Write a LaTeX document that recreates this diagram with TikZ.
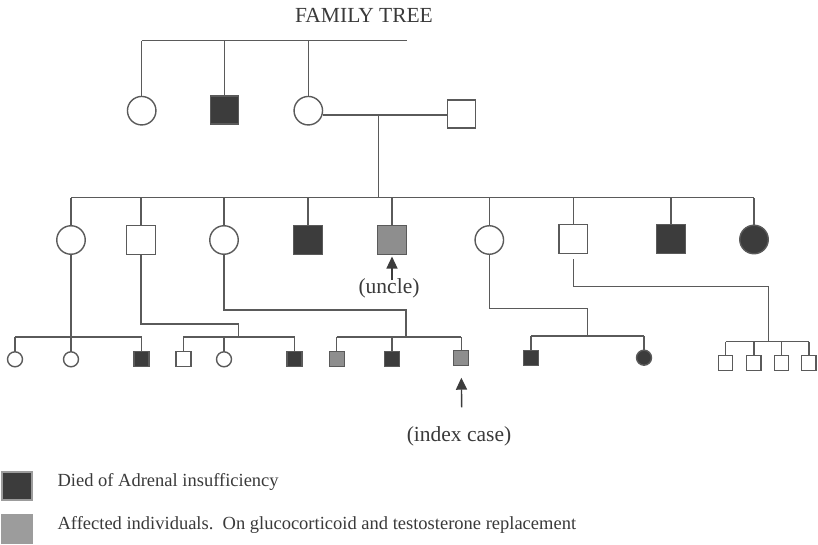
\documentclass[tikz,border=0pt]{standalone}
\usepackage{fontspec}
\setmainfont{Liberation Serif}
\usetikzlibrary{arrows.meta}
\definecolor{ln}{HTML}{5A5A5A}
\definecolor{dk}{HTML}{3C3C3C}
\definecolor{gr}{HTML}{8E8E8E}
\definecolor{lgr}{HTML}{9C9C9C}
\definecolor{txt}{HTML}{3A3A3A}
\tikzset{
  person/.style={draw=ln, line width=1.4pt, fill=white, inner sep=0pt, outer sep=0pt},
  fbig/.style={person, circle, minimum size=28.5pt},
  mbig/.style={person, rectangle, minimum size=28.5pt},
  fsm/.style={person, circle, minimum size=15pt},
  msm/.style={person, rectangle, minimum size=15pt},
  dead/.style={fill=dk},
  aff/.style={fill=gr},
  link/.style={draw=ln, line width=1.4pt},
  pointer/.style={draw=dk, line width=1.4pt, -{Triangle[length=12pt,width=11pt]}},
  lbl/.style={text=txt, inner sep=0pt, font=\fontsize{21.5}{25}\selectfont},
  leg/.style={text=txt, inner sep=0pt, anchor=west, font=\fontsize{18.5}{22}\selectfont},
}
\begin{document}
\begin{tikzpicture}[x=1pt,y=-1pt]
\useasboundingbox[fill=white] (0,0) rectangle (818,545);

% title
\node[lbl] (title) at (364,15) {FAMILY TREE};

% generation 1
\node[fbig] (g1a) at (141.7,110.7) {};
\node[mbig, dead, minimum size=28pt] (g1b) at (224.7,110.2) {};
\node[fbig] (g1c) at (308.3,110.7) {};
\node[mbig, minimum size=28pt] (g1d) at (461.7,114.2) {};
\coordinate (s1L) at (141.7,40.7);
\coordinate (s1R) at (406.7,40.7);
\coordinate (m1) at (378.3,115);

% generation 2
\node[fbig] (g2a) at (71,240) {};
\node[mbig] (g2b) at (141,240) {};
\node[fbig] (g2c) at (224,240) {};
\node[mbig, dead] (g2d) at (308,240) {};
\node[mbig, aff] (g2e) at (392,240) {};
\node[fbig] (g2f) at (489.3,240) {};
\node[mbig] (g2g) at (573.3,239) {};
\node[mbig, dead] (g2h) at (671,239) {};
\node[fbig, dead] (g2i) at (754,239.5) {};
\coordinate (s2L) at (71,197.7);
\coordinate (s2R) at (754,197.7);

% generation 3
\node[fsm] (c1) at (15,359.3) {};
\node[fsm] (c2) at (71,359.3) {};
\node[msm, dead] (c3) at (141.5,359) {};
\node[msm] (c4) at (183.3,359) {};
\node[fsm] (c5) at (224,359.3) {};
\node[msm, dead] (c6) at (294.5,359) {};
\node[msm, aff] (c7) at (336.7,359) {};
\node[msm, dead] (c8) at (392,359) {};
\node[msm, aff] (c9) at (461.2,357.7) {};
\node[msm, dead] (c10) at (531,357.7) {};
\node[fsm, dead] (c11) at (644,357.7) {};
\node[msm, minimum size=14.5pt] (c12) at (725.5,363) {};
\node[msm, minimum size=14.5pt] (c13) at (753.8,363) {};
\node[msm, minimum size=14.5pt] (c14) at (781.5,363) {};
\node[msm, minimum size=14.5pt] (c15) at (808.8,363) {};

% sibling-line coordinates of generation 3
\coordinate (sA) at (15,337);
\coordinate (sAR) at (141.5,337);
\coordinate (sB) at (183.3,337);
\coordinate (sBR) at (294.5,337);
\coordinate (jB) at (238.3,337);
\coordinate (sC) at (336.7,337);
\coordinate (sCR) at (461.2,337);
\coordinate (jC) at (406,337);
\coordinate (sD) at (531,336);
\coordinate (sDR) at (644,336);
\coordinate (jD) at (587.7,336);
\coordinate (sE) at (725.5,341.7);
\coordinate (sER) at (808.8,341.7);
\coordinate (jE) at (768.3,341.7);
\coordinate (eTop) at (573.3,259);

% generation 1 lines
\draw[link] (s1L) -- (s1R);
\foreach \n in {g1a,g1b,g1c} \draw[link] (\n.north) -- (\n.north |- s1L);
\draw[link] (g1c.east |- m1) -- (g1d.west |- m1);
\draw[link] (m1) -- (m1 |- s2L);

% generation 2 lines
\draw[link] (s2L) -- (s2R);
\foreach \n in {g2a,g2b,g2c,g2d,g2e,g2f,g2g,g2h,g2i} \draw[link] (\n.north) -- (\n.north |- s2L);

% descents to generation 3
\draw[link] (g2a.south) -- (c2.north);
\draw[link] (g2b.south) -- (g2b.south |- 0,324) -- (jB |- 0,324) -- (jB);
\draw[link] (g2c.south) -- (g2c.south |- 0,310) -- (jC |- 0,310) -- (jC);
\draw[link] (g2f.south) -- (g2f.south |- 0,308.3) -- (jD |- 0,308.3) -- (jD);
\draw[link] (eTop) -- (eTop |- 0,286.7) -- (jE |- 0,286.7) -- (jE);

% sibling lines of generation 3
\draw[link] (sA) -- (sAR);
\draw[link] (sB) -- (sBR);
\draw[link] (sC) -- (sCR);
\draw[link] (sD) -- (sDR);
\draw[link] (sE) -- (sER);
\foreach \n in {c1,c3} \draw[link] (\n.north) -- (\n.north |- sA);
\foreach \n in {c4,c5,c6} \draw[link] (\n.north) -- (\n.north |- sB);
\foreach \n in {c7,c8,c9} \draw[link] (\n.north) -- (\n.north |- sC);
\foreach \n in {c10,c11} \draw[link] (\n.north) -- (\n.north |- sD);
\foreach \n in {c12,c13,c14,c15} \draw[link] (\n.north) -- (\n.north |- sE);

% pointers
\node[lbl] (uncle) at (389,288) {(uncle)};
\draw[pointer, shorten >=2.3pt] (g2e.south |- 0,280) -- (g2e.south);
\coordinate (idxBot) at (461.7,407.3);
\draw[pointer, shorten >=12.5pt] (idxBot) -- (c9.south);
\node[lbl] (index) at (459,436.7) {(index case)};

% legend
\node[person, draw=lgr, fill=dk, minimum width=30pt, minimum height=28pt] (kdead) at (17,486) {};
\node[person, draw=lgr, fill=lgr, minimum width=30pt, minimum height=28pt] (kaff) at (17,529) {};
\node[leg] (tdead) at (57.4,482) {Died of Adrenal insufficiency};
\node[leg] (taff) at (57.4,525) {Affected individuals.\ \ On glucocorticoid and testosterone replacement};
\end{tikzpicture}
\end{document}
